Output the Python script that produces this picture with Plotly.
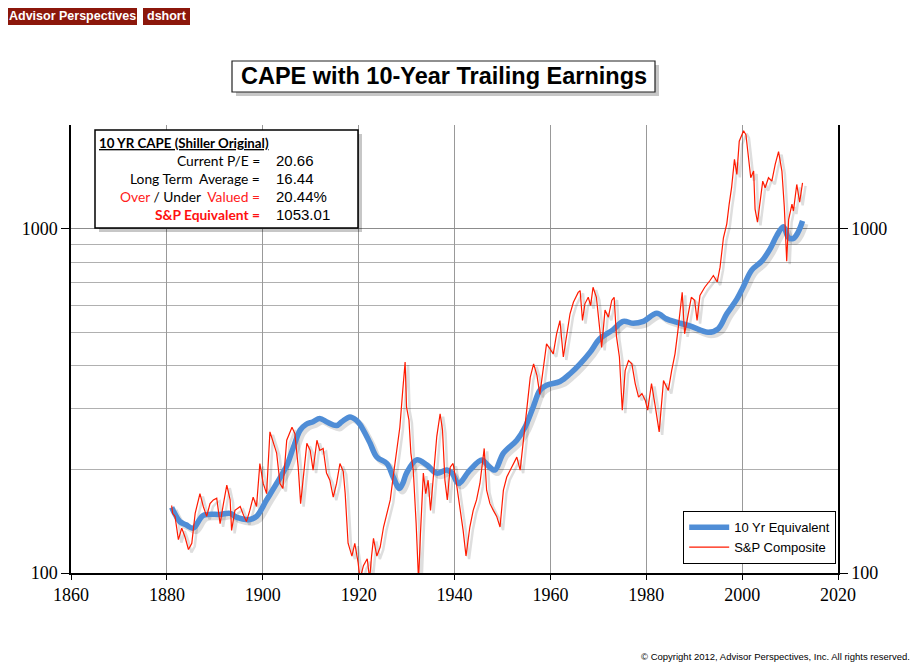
import plotly.graph_objects as go

# ---------------- data ----------------
sp_years = [1881.0, 1881.2, 1881.7, 1882.4, 1883.1, 1883.8, 1884.5, 1885.2, 1885.9, 1886.6,
            1886.9, 1887.6, 1888.3, 1889.0, 1889.7, 1890.4, 1891.1, 1891.8, 1892.5, 1893.2,
            1893.5, 1894.2, 1895.3, 1896.0, 1896.6, 1897.3, 1898.0, 1898.7, 1899.4, 1900.1,
            1900.8, 1901.5, 1902.2, 1902.9, 1903.6, 1904.2, 1905.0, 1906.1, 1906.7, 1907.4,
            1907.9, 1908.5, 1909.2, 1909.9, 1910.5, 1911.3, 1911.9, 1912.6, 1913.3, 1914.0,
            1914.7, 1915.4, 1916.1, 1916.8, 1917.2, 1917.8, 1918.6, 1919.2, 1919.9, 1920.3,
            1921.0, 1921.8, 1922.3, 1922.7, 1923.1, 1923.8, 1924.5, 1925.2, 1925.9, 1926.6,
            1927.2, 1927.9, 1928.6, 1929.2, 1929.7, 1930.0, 1930.5, 1930.9, 1931.4, 1932.0,
            1932.5, 1932.9, 1933.5, 1934.0, 1934.5, 1935.0, 1935.6, 1936.3, 1937.0, 1937.5,
            1938.0, 1938.5, 1939.1, 1939.7, 1940.4, 1941.1, 1941.8, 1942.4, 1943.2, 1943.9,
            1944.6, 1945.3, 1946.2, 1946.7, 1947.4, 1948.1, 1948.8, 1949.5, 1950.2, 1950.9,
            1951.9, 1953.0, 1953.7, 1954.4, 1955.1, 1955.8, 1956.5, 1957.2, 1957.8, 1958.5,
            1959.2, 1959.9, 1960.6, 1961.3, 1962.0, 1962.7, 1963.4, 1964.1, 1964.8, 1965.8,
            1966.2, 1966.7, 1967.2, 1967.9, 1968.4, 1968.9, 1969.6, 1970.3, 1970.7, 1971.4,
            1972.1, 1972.8, 1973.3, 1973.8, 1974.4, 1975.0, 1975.6, 1976.3, 1977.0, 1977.7,
            1978.4, 1979.1, 1979.8, 1980.3, 1981.1, 1981.8, 1982.7, 1983.6, 1984.6, 1985.3,
            1986.0, 1986.6, 1987.0, 1987.5, 1988.0, 1988.7, 1989.4, 1990.1, 1990.6, 1991.2,
            1992.2, 1993.3, 1994.0, 1994.8, 1995.4, 1996.1, 1996.8, 1997.3, 1997.8, 1998.4,
            1998.9, 1999.4, 2000.3, 2000.8, 2001.3, 2001.8, 2002.4, 2002.7, 2003.2, 2003.8,
            2004.3, 2004.8, 2005.5, 2006.2, 2006.9, 2007.6, 2008.3, 2008.8, 2009.3, 2009.7,
            2010.4, 2010.7, 2011.4, 2012.0, 2012.6]
sp_values = [157, 149, 146, 125, 135, 127, 117, 122, 149, 163,
             170, 156, 146, 159, 163, 165, 139, 159, 180, 163,
             133, 152, 156, 147, 141, 152, 166, 156, 208, 182,
             170, 257, 238, 223, 182, 176, 243, 265, 254, 203,
             159, 190, 238, 227, 199, 243, 227, 230, 195, 186,
             166, 182, 208, 197, 170, 122, 112, 122, 107, 96,
             105, 110, 96, 112, 126, 112, 119, 136, 149, 163,
             190, 227, 265, 339, 410, 303, 278, 223, 199, 139,
             95, 130, 195, 170, 186, 152, 195, 249, 290, 260,
             186, 163, 203, 208, 182, 156, 133, 112, 136, 152,
             163, 182, 230, 174, 159, 152, 146, 136, 174, 190,
             203, 217, 199, 243, 305, 370, 405, 375, 330, 396,
             463, 448, 433, 495, 541, 424, 495, 566, 611, 653,
             661, 541, 605, 632, 598, 676, 632, 518, 452, 580,
             553, 619, 632, 485, 424, 297, 387, 414, 405, 355,
             324, 332, 317, 297, 355, 310, 257, 362, 339, 387,
             433, 505, 566, 653, 495, 553, 632, 619, 541, 640,
             676, 707, 731, 700, 773, 941, 1033, 1179, 1315, 1589,
             1438, 1795, 1925, 1873, 1607, 1406, 1470, 1140, 1044, 1206,
             1374, 1315, 1406, 1374, 1537, 1674, 1470, 1157, 805, 1063,
             1179, 1125, 1344, 1193, 1358]

eq_years = [1881.0, 1881.5, 1882.7, 1884.0, 1885.5, 1887.6, 1891.1, 1893.2, 1894.6, 1897.3,
            1898.7, 1900.8, 1902.9, 1905.0, 1906.4, 1907.8, 1909.0, 1910.5, 1911.9, 1913.5,
            1915.4, 1916.5, 1918.2, 1919.5, 1920.3, 1921.5, 1922.4, 1923.8, 1925.9, 1927.2,
            1928.5, 1929.2, 1930.0, 1932.1, 1934.2, 1936.3, 1938.4, 1939.5, 1940.8, 1943.2,
            1945.7, 1947.0, 1948.4, 1950.2, 1953.0, 1954.7, 1956.4, 1957.8, 1959.2, 1962.0,
            1964.1, 1966.2, 1968.3, 1970.3, 1973.1, 1975.2, 1977.3, 1979.4, 1982.2, 1984.2,
            1986.3, 1989.1, 1992.9, 1995.0, 1996.8, 1998.9, 2000.2, 2002.0, 2004.1, 2005.8,
            2007.2, 2008.6, 2009.7, 2010.7, 2011.7, 2012.6]
eq_values = [155, 150, 141, 138, 135, 147, 148, 149, 145, 143,
             146, 163, 182, 205, 232, 260, 270, 275, 281, 274,
             268, 275, 284, 278, 270, 252, 238, 217, 208, 190,
             176, 182, 195, 213, 206, 195, 199, 195, 182, 199,
             213, 205, 199, 223, 243, 265, 303, 339, 351, 360,
             379, 405, 438, 479, 509, 538, 531, 538, 568, 547,
             535, 522, 500, 512, 566, 624, 676, 758, 805, 872,
             953, 1013, 941, 937, 978, 1053]

x_ticks = [1860, 1880, 1900, 1920, 1940, 1960, 1980, 2000, 2020]
y_ticks = [100, 1000]
y_minor = [200, 300, 400, 500, 600, 700, 800, 900, 2000]

info_labels = ["Current P/E =", "Long Term  Average =",
               "<span style='color:#ff2020'>Over</span> / Under  <span style='color:#ff2020'>Valued =</span>",
               "<b><span style='color:#ff1010'>S&P Equivalent =</span></b>"]
info_values = ["20.66", "16.44", "20.44%", "1053.01"]

# ---------------- geometry helpers (window pixel -> paper) ----------------
OFF = 8                      # default page margin of the html body
FW, FH = 920 - OFF, 668 - OFF
L, R, T, B = 71, 838, 125, 573   # plot area in window pixels
W, H = R - L, B - T
def px(x): return (x - L) / W
def py(y): return (B - y) / H

YMIN, YMAX = 2.0, 3.30105
dx_sh = 3 * 160 / W            # 3 px shadow offset in years
dy_sh = 3 * (YMAX - YMIN) / H  # 3 px shadow offset in log units

fig = go.Figure()

# shadows (base axes, offset ranges)
fig.add_trace(go.Scatter(x=eq_years, y=eq_values, mode="lines", xaxis="x", yaxis="y",
                         line=dict(color="rgba(0,0,0,0.13)", width=6, shape="spline", smoothing=1.0),
                         showlegend=False, hoverinfo="skip"))
fig.add_trace(go.Scatter(x=sp_years, y=sp_values, mode="lines", xaxis="x", yaxis="y",
                         line=dict(color="rgba(0,0,0,0.13)", width=2.5),
                         showlegend=False, hoverinfo="skip"))
# main series
fig.add_trace(go.Scatter(x=eq_years, y=eq_values, mode="lines", xaxis="x2", yaxis="y2",
                         name="10 Yr Equivalent",
                         line=dict(color="#4f8dd6", width=5.5, shape="spline", smoothing=1.0)))
fig.add_trace(go.Scatter(x=sp_years, y=sp_values, mode="lines", xaxis="x2", yaxis="y2",
                         name="S&P Composite",
                         line=dict(color="#ff1a00", width=1.2)))
# invisible trace so the right axis renders
fig.add_trace(go.Scatter(x=[eq_years[0]], y=[eq_values[0]], xaxis="x2", yaxis="y3",
                         mode="markers", marker=dict(opacity=0), showlegend=False, hoverinfo="skip"))

serif = "Liberation Serif, Times New Roman, serif"
sans = "Liberation Sans, Arial, sans-serif"

fig.update_layout(
    width=FW, height=FH,
    margin=dict(l=L - OFF, r=920 - R, t=T - OFF, b=668 - B),
    paper_bgcolor="white", plot_bgcolor="white",
    showlegend=True,
    legend=dict(x=px(836), y=py(511), xanchor="right", yanchor="top",
                bgcolor="white", bordercolor="black", borderwidth=1.2,
                font=dict(family=sans, size=13, color="black"),
                tracegroupgap=2, itemwidth=40),
    xaxis=dict(range=[1860 - dx_sh, 2020 - dx_sh], visible=False, showgrid=False),
    yaxis=dict(type="log", range=[YMIN + dy_sh, YMAX + dy_sh], visible=False, showgrid=False),
    xaxis2=dict(overlaying="x", anchor="y2", range=[1860, 2020], tickvals=x_ticks,
                showgrid=True, gridcolor="#999999", gridwidth=1,
                showline=True, linecolor="black", linewidth=1.5,
                ticks="outside", ticklen=5, tickcolor="black",
                tickfont=dict(family=serif, size=18, color="black"), zeroline=False),
    yaxis2=dict(overlaying="y", anchor="x2", side="left", type="log", range=[YMIN, YMAX],
                tickvals=y_ticks, ticktext=[str(v) for v in y_ticks],
                showgrid=True, gridcolor="#8c8c8c", gridwidth=1,
                showline=True, linecolor="black", linewidth=1.5,
                ticks="outside", ticklen=8, tickcolor="black",
                tickfont=dict(family=serif, size=18, color="black"),
                minor=dict(tickvals=y_minor, showgrid=True, gridcolor="#b0b0b0", gridwidth=1, ticks=""),
                zeroline=False),
    yaxis3=dict(overlaying="y", anchor="x2", side="right", type="log", range=[YMIN, YMAX],
                tickvals=y_ticks, ticktext=[str(v) for v in y_ticks],
                showgrid=False, showline=True, linecolor="black", linewidth=1.5,
                ticks="outside", ticklen=8, tickcolor="black",
                tickfont=dict(family=serif, size=18, color="black"), zeroline=False),
)

shapes = []
ann = []
def rect(x0, y0, x1, y1, fill, line=None, lw=0):
    shapes.append(dict(type="rect", xref="paper", yref="paper",
                       x0=px(x0), x1=px(x1), y0=py(y1), y1=py(y0),
                       fillcolor=fill, line=dict(color=line or fill, width=lw), layer="above"))
def text(x, y, s, size, family=sans, color="black", xanchor="left"):
    ann.append(dict(xref="paper", yref="paper", x=px(x), y=py(y), text=s, showarrow=False,
                    xanchor=xanchor, yanchor="middle",
                    font=dict(family=family, size=size, color=color)))

# header tags
rect(8, 7, 137, 25, "#8c170b")
rect(143, 7, 190, 25, "#8c170b")
text(72.5, 16, "<b>Advisor Perspectives</b>", 12.5, color="white", xanchor="center")
text(166.5, 16, "<b>dshort</b>", 12.5, color="white", xanchor="center")

# title box
rect(236, 65, 659, 96, "rgba(0,0,0,0.22)")
rect(232, 61, 655, 92, "white", "#222222", 1.2)
text(443.5, 76.5, "<b>CAPE with 10-Year Trailing Earnings</b>", 23.5, xanchor="center")

# info box
rect(99, 134, 362, 232, "rgba(0,0,0,0.22)")
rect(95, 130, 358, 228, "white", "black", 1.5)
calib = "Lato, Noto Sans, sans-serif"
text(96.5, 143, "<b><u>10 YR CAPE (Shiller Original)</u></b>", 13.3, family=calib)
rows_y = [160, 178.5, 196.5, 214.5]
for lab, val, yy in zip(info_labels, info_values, rows_y):
    text(262, yy, lab, 13.8, family=calib, xanchor="right")
    text(274, yy, val, 15, family=sans)

# copyright
text(912, 656, "© Copyright 2012, Advisor Perspectives, Inc. All rights reserved.", 9.5,
     family="Liberation Sans Narrow, Arial Narrow, sans-serif", xanchor="right")

fig.update_layout(shapes=shapes, annotations=ann)
fig.write_html("out.html")
